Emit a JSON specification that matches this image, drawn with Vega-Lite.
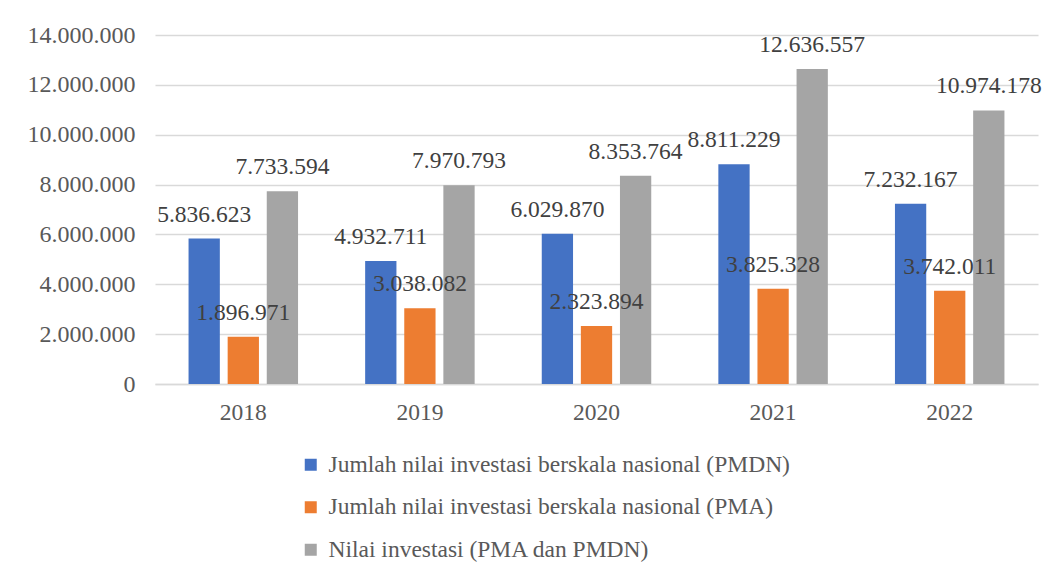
{
  "$schema": "https://vega.github.io/schema/vega-lite/v6.json",
  "width": 883,
  "height": 349,
  "autosize": {"type": "none"},
  "padding": {"left": 155, "top": 35, "right": 22, "bottom": 194},
  "background": "white",
  "config": {
    "font": "Liberation Serif",
    "view": {"stroke": null},
    "locale": {"number": {"decimal": ",", "thousands": ".", "grouping": [3], "currency": ["", ""]}}
  },
  "data": {
    "values": [
      {"year": "2018", "series": "Jumlah nilai investasi berskala nasional (PMDN)", "value": 5836623},
      {"year": "2018", "series": "Jumlah nilai investasi berskala nasional (PMA)", "value": 1896971},
      {"year": "2018", "series": "Nilai investasi (PMA dan PMDN)", "value": 7733594},
      {"year": "2019", "series": "Jumlah nilai investasi berskala nasional (PMDN)", "value": 4932711},
      {"year": "2019", "series": "Jumlah nilai investasi berskala nasional (PMA)", "value": 3038082},
      {"year": "2019", "series": "Nilai investasi (PMA dan PMDN)", "value": 7970793},
      {"year": "2020", "series": "Jumlah nilai investasi berskala nasional (PMDN)", "value": 6029870},
      {"year": "2020", "series": "Jumlah nilai investasi berskala nasional (PMA)", "value": 2323894},
      {"year": "2020", "series": "Nilai investasi (PMA dan PMDN)", "value": 8353764},
      {"year": "2021", "series": "Jumlah nilai investasi berskala nasional (PMDN)", "value": 8811229},
      {"year": "2021", "series": "Jumlah nilai investasi berskala nasional (PMA)", "value": 3825328},
      {"year": "2021", "series": "Nilai investasi (PMA dan PMDN)", "value": 12636557},
      {"year": "2022", "series": "Jumlah nilai investasi berskala nasional (PMDN)", "value": 7232167},
      {"year": "2022", "series": "Jumlah nilai investasi berskala nasional (PMA)", "value": 3742011},
      {"year": "2022", "series": "Nilai investasi (PMA dan PMDN)", "value": 10974178}
    ]
  },
  "encoding": {
    "x": {
      "field": "year", "type": "nominal", "title": null,
      "scale": {"paddingInner": 0.38, "paddingOuter": 0.19},
      "axis": {"labelAngle": 0, "labelFontSize": 23.5, "labelColor": "#595959", "ticks": false, "domainColor": "#d9d9d9", "domainWidth": 1.5, "labelPadding": 16}
    },
    "xOffset": {
      "field": "series", "type": "nominal",
      "sort": ["Jumlah nilai investasi berskala nasional (PMDN)", "Jumlah nilai investasi berskala nasional (PMA)", "Nilai investasi (PMA dan PMDN)"],
      "scale": {"paddingInner": 0.2, "paddingOuter": 0}
    },
    "y": {
      "field": "value", "type": "quantitative", "title": null,
      "scale": {"domain": [0, 14000000], "nice": false},
      "axis": {"values": [0, 2000000, 4000000, 6000000, 8000000, 10000000, 12000000, 14000000], "format": ",d", "labelFontSize": 24, "labelColor": "#595959", "ticks": false, "domain": false, "gridColor": "#d9d9d9", "gridWidth": 1.5, "labelPadding": 20}
    }
  },
  "layer": [
    {
      "mark": {"type": "bar"},
      "encoding": {
        "color": {
          "field": "series", "type": "nominal", "title": null,
          "scale": {
            "domain": ["Jumlah nilai investasi berskala nasional (PMDN)", "Jumlah nilai investasi berskala nasional (PMA)", "Nilai investasi (PMA dan PMDN)"],
            "range": ["#4472C4", "#ED7D31", "#A5A5A5"]
          },
          "legend": {
            "orient": "none", "direction": "vertical", "legendX": 144, "legendY": 418,
            "symbolType": "square", "symbolSize": 144, "symbolStrokeWidth": 0,
            "labelFontSize": 23.5, "labelColor": "#595959", "labelOffset": 6, "labelLimit": 800,
            "rowPadding": 17.5, "padding": 0
          }
        }
      }
    },
    {
      "mark": {"type": "text", "dy": -24, "baseline": "middle", "fontSize": 23.5, "color": "#404040"},
      "encoding": {
        "text": {"field": "value", "type": "quantitative", "format": ",d"}
      }
    }
  ]
}
